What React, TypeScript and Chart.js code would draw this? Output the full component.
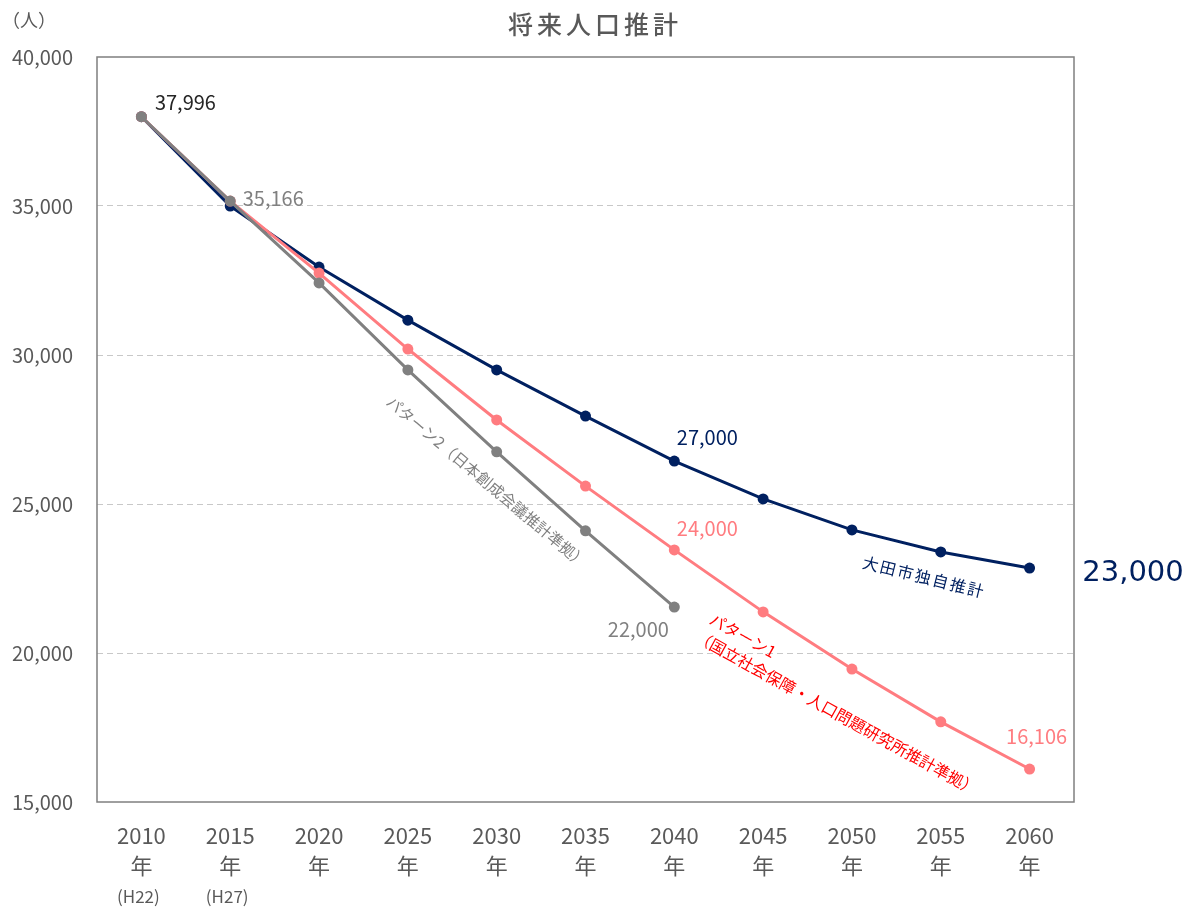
import { useEffect, useRef } from 'react';
import { Chart, registerables } from 'chart.js';

Chart.register(...registerables);

const FONT = '"Noto Sans CJK JP", "Noto Sans", sans-serif';

const years = ['2010', '2015', '2020', '2025', '2030', '2035', '2040', '2045', '2050', '2055', '2060'];
const eraLabels = ['(H22)', '(H27)'];
const yTicks = [15000, 20000, 25000, 30000, 35000, 40000];

const odaEstimate = [37996, 35000, 32950, 31170, 29500, 27950, 26440, 25170, 24130, 23390, 22850];
const pattern1 = [37996, 35166, 32750, 30200, 27820, 25600, 23460, 21380, 19460, 17690, 16106];
const pattern2 = [37996, 35166, 32420, 29500, 26750, 24100, 21540, null, null, null, null];

const NAVY = '#002060';
const PINK = '#ff7c80';
const GRAY = '#808080';
const TEXT = '#595959';

export default function App() {
  const ref = useRef<HTMLCanvasElement>(null);

  useEffect(() => {
    document.body.style.margin = '0';
    const canvas = ref.current;
    if (!canvas) return;

    const overlay = {
      id: 'overlay',
      beforeDatasetsDraw(chart: any) {
        const { ctx, chartArea } = chart;
        ctx.save();
        ctx.strokeStyle = '#7f7f7f';
        ctx.lineWidth = 1.5;
        ctx.strokeRect(chartArea.left, chartArea.top, chartArea.right - chartArea.left, chartArea.bottom - chartArea.top);
        ctx.restore();
      },
      afterDraw(chart: any) {
        const { ctx } = chart;
        const xs = chart.scales.x;
        const ys = chart.scales.y;
        const px = (i: number) => xs.getPixelForValue(i);
        const py = (v: number) => ys.getPixelForValue(v);
        ctx.save();
        ctx.textBaseline = 'middle';
        ctx.textAlign = 'center';

        // title
        ctx.fillStyle = TEXT;
        ctx.font = `500 25px ${FONT}`;
        (ctx as any).letterSpacing = '4px';
        ctx.fillText('将来人口推計', 595, 24);
        (ctx as any).letterSpacing = '0px';
        // unit
        ctx.font = `18px ${FONT}`;
        ctx.textAlign = 'left';
        ctx.fillText('（人）', 2, 20);

        // era labels
        ctx.textAlign = 'center';
        ctx.font = `17px ${FONT}`;
        eraLabels.forEach((t, i) => ctx.fillText(t, px(i) - 3, 897));

        // data labels
        ctx.font = `20px ${FONT}`;
        ctx.fillStyle = '#262626';
        ctx.fillText(odaEstimate[0].toLocaleString('en-US'), px(0) + 44, py(odaEstimate[0]) - 14);
        ctx.fillStyle = GRAY;
        ctx.fillText((pattern1[1] as number).toLocaleString('en-US'), px(1) + 43, py(pattern1[1]) - 3);
        ctx.fillStyle = NAVY;
        ctx.fillText('27,000', px(6) + 33, py(odaEstimate[6]) - 24);
        ctx.fillStyle = PINK;
        ctx.fillText('24,000', px(6) + 33, py(pattern1[6]) - 21);
        ctx.fillStyle = GRAY;
        ctx.fillText('22,000', px(6) - 36, py(pattern2[6] as number) + 22);
        ctx.fillStyle = PINK;
        ctx.fillText(pattern1[10].toLocaleString('en-US'), px(10) + 7, py(pattern1[10]) - 33);

        // big 23,000
        ctx.fillStyle = NAVY;
        ctx.font = `29px "DejaVu Sans", sans-serif`;
        ctx.fillText('23,000', 1133, 573);

        // rotated series names
        ctx.font = `16px ${FONT}`;
        ctx.fillStyle = NAVY;
        ctx.save();
        ctx.translate(924, 577);
        ctx.rotate((14 * Math.PI) / 180);
        (ctx as any).letterSpacing = '2px';
        ctx.fillText('大田市独自推計', 0, 0);
        ctx.restore();

        ctx.font = `15.5px ${FONT}`;
        ctx.fillStyle = GRAY;
        ctx.save();
        ctx.translate(487, 482);
        ctx.rotate((40 * Math.PI) / 180);
        ctx.fillText('パターン2（日本創成会議推計準拠）', 0, 0);
        ctx.restore();

        ctx.font = `16px ${FONT}`;
        ctx.fillStyle = '#ff0000';
        ctx.save();
        ctx.translate(711, 618);
        ctx.rotate((29 * Math.PI) / 180);
        ctx.textAlign = 'left';
        ctx.fillText('パターン1', 0, 0);
        ctx.fillText('（国立社会保障・人口問題研究所推計準拠）', -4, 22);
        ctx.restore();

        ctx.restore();
      },
    };

    const ds = (label: string, data: (number | null)[], color: string) => ({
      label,
      data,
      borderColor: color,
      backgroundColor: color,
      pointBackgroundColor: color,
      pointBorderWidth: 0,
      pointRadius: 5.5,
      borderWidth: 3,
      tension: 0,
      spanGaps: false,
    });

    const chart = new Chart(canvas, {
      type: 'line',
      data: {
        labels: years.map((y) => [y, '年']),
        datasets: [
          ds('パターン2（日本創成会議推計準拠）', pattern2, GRAY),
          ds('パターン1（国立社会保障・人口問題研究所推計準拠）', pattern1, PINK),
          ds('大田市独自推計', odaEstimate, NAVY),
        ],
      },
      options: {
        responsive: false,
        animation: false,
        devicePixelRatio: 1,
        layout: { padding: { left: 0, right: 110, top: 57, bottom: 0 } },
        plugins: { legend: { display: false }, tooltip: { enabled: false }, title: { display: false } },
        scales: {
          x: {
            type: 'category',
            offset: true,
            grid: { display: false, drawTicks: false },
            border: { display: false },
            ticks: {
              color: TEXT,
              font: { family: FONT, size: 22, lineHeight: '30px' },
              padding: 19,
              maxRotation: 0,
              autoSkip: false,
            },
            afterFit: (scale: any) => {
              scale.height = 105;
            },
          },
          y: {
            min: 15000,
            max: 40000,
            afterBuildTicks: (scale: any) => {
              scale.ticks = yTicks.map((v) => ({ value: v }));
            },
            ticks: {
              color: TEXT,
              font: { family: FONT, size: 20 },
              padding: 24,
              callback: (v: any) => Number(v).toLocaleString('en-US'),
            },
            grid: {
              drawTicks: false,
              color: (c: any) => (c.tick && (c.tick.value === 15000 || c.tick.value === 40000) ? 'rgba(0,0,0,0)' : '#c8c8c8'),
              lineWidth: 1,
            },
            border: { display: false, dash: [6, 4] },
            afterFit: (scale: any) => {
              scale.width = 97;
            },
          },
        },
      },
      plugins: [overlay],
    });

    return () => chart.destroy();
  }, []);

  return (
    <div style={{ width: 1184, height: 907 }}>
      <canvas ref={ref} width={1184} height={907} style={{ display: 'block' }} />
    </div>
  );
}
